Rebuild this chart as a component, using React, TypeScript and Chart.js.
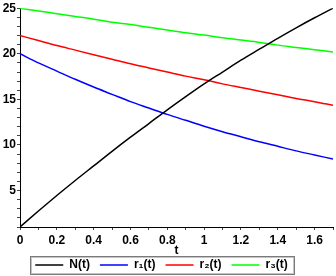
import { useEffect, useRef } from "react";
import { Chart, registerables } from "chart.js";

Chart.register(...registerables);

const tValues = [0, 0.1, 0.2, 0.3, 0.4, 0.5, 0.6, 0.7, 0.8, 0.9, 1.0, 1.1, 1.2, 1.3, 1.4, 1.5, 1.6, 1.7];
const nValues = [1, 2.75, 4.45, 6.1, 7.7, 9.3, 10.85, 12.35, 13.85, 15.3, 16.7, 18.0, 19.3, 20.5, 21.7, 22.85, 23.95, 25.0];
const r1Values = [20, 19.0, 18.1, 17.2, 16.35, 15.55, 14.75, 14.05, 13.35, 12.7, 12.05, 11.45, 10.9, 10.35, 9.85, 9.35, 8.9, 8.45];
const r2Values = [22, 21.45, 20.9, 20.4, 19.9, 19.4, 18.9, 18.45, 18.0, 17.55, 17.15, 16.7, 16.3, 15.9, 15.5, 15.1, 14.75, 14.35];
const r3Values = [25, 24.7, 24.4, 24.1, 23.8, 23.45, 23.2, 22.9, 22.6, 22.3, 22.05, 21.75, 21.5, 21.25, 20.95, 20.7, 20.45, 20.2];

const seriesLabels = ["N(t)", "r\u2081(t)", "r\u2082(t)", "r\u2083(t)"];
const seriesColors = ["#000000", "#0000ff", "#ff0000", "#00ff00"];
const xAxisTitle = "t";
const yTickLabels = [5, 10, 15, 20, 25];

const FONT = "'Liberation Sans', Arial, sans-serif";

const legendBorder = {
  id: "legendBorder",
  afterLayout(chart: any) {
    const lg = chart.legend;
    if (lg) {
      lg.left -= 6;
      lg.right -= 6;
    }
  },
  afterDraw(chart: any) {
    const lg = chart.legend;
    const hb = lg && lg.legendHitBoxes;
    if (!hb || !hb.length) return;
    const ctx = chart.ctx;
    const l = Math.round(Math.min(...hb.map((h: any) => h.left)) - 5);
    const r = Math.round(Math.max(...hb.map((h: any) => h.left + h.width)) + 6);
    const t = Math.round(Math.min(...hb.map((h: any) => h.top)) - 3);
    const b = Math.round(Math.max(...hb.map((h: any) => h.top + h.height)) + 3);
    ctx.save();
    ctx.lineWidth = 1;
    ctx.strokeStyle = "#7a7a7a";
    ctx.strokeRect(l + 0.5, t + 0.5, r - l, b - t);
    ctx.strokeStyle = "#c4c4c4";
    ctx.strokeRect(l + 1.5, t + 1.5, r - l - 2, b - t - 2);
    ctx.restore();
  },
};

export default function App() {
  const ref = useRef<HTMLCanvasElement | null>(null);
  useEffect(() => {
    if (!ref.current) return;
    const all = [nValues, r1Values, r2Values, r3Values];
    const chart = new Chart(ref.current, {
      type: "line",
      data: {
        datasets: all.map((vals, i) => ({
          label: seriesLabels[i],
          data: tValues.map((t, j) => ({ x: t, y: vals[j] })),
          borderColor: seriesColors[i],
          backgroundColor: seriesColors[i],
          borderWidth: 1.5,
          pointRadius: 0,
          cubicInterpolationMode: "monotone" as const,
          fill: false,
        })),
      },
      options: {
        animation: false,
        responsive: false,
        maintainAspectRatio: false,
        layout: { padding: { top: 5, right: 1, left: 0, bottom: -5 } },
        plugins: {
          tooltip: { enabled: false },
          legend: {
            position: "bottom",
            labels: {
              usePointStyle: true,
              pointStyle: "line",
              pointStyleWidth: 28,
              boxWidth: 28,
              padding: 10,
              color: "#000",
              font: { family: FONT, size: 12, weight: "bold" },
            },
          },
        },
        scales: {
          x: {
            type: "linear",
            min: 0,
            max: 1.7,
            ticks: {
              stepSize: 0.1,
              autoSkip: false,
              maxRotation: 0,
              padding: 3,
              color: "#000",
              font: { family: FONT, size: 12, weight: "bold" },
              callback: (v: any) => {
                const k = Math.round(Number(v) * 10);
                return k % 2 === 0 ? String(k / 10) : "";
              },
            },
            grid: { drawOnChartArea: false, drawTicks: true, tickLength: 3, color: "#444" },
            border: { display: true, color: "#000", width: 1 },
            title: {
              display: true,
              text: xAxisTitle,
              color: "#000",
              font: { family: FONT, size: 12, weight: "bold" },
              padding: { top: 0, bottom: -9 },
            },
            afterFit: (s: any) => {
              s.height = 22;
            },
          },
          y: {
            type: "linear",
            min: 1,
            max: 25,
            ticks: {
              stepSize: 1,
              autoSkip: false,
              padding: 1,
              color: "#000",
              font: { family: FONT, size: 12, weight: "bold" },
              callback: (v: any) => (yTickLabels.includes(Number(v)) ? String(v) : ""),
            },
            grid: { drawOnChartArea: false, drawTicks: true, tickLength: 3, color: "#444" },
            border: { display: true, color: "#000", width: 1 },
            afterFit: (s: any) => {
              s.width = 20;
            },
          },
        },
      },
      plugins: [legendBorder],
    });
    return () => chart.destroy();
  }, []);
  return (
    <div style={{ position: "fixed", left: 0, top: 0, width: 336, height: 276, background: "#fff" }}>
      <canvas ref={ref} width={336} height={276} style={{ width: 336, height: 276, display: "block" }} />
    </div>
  );
}
